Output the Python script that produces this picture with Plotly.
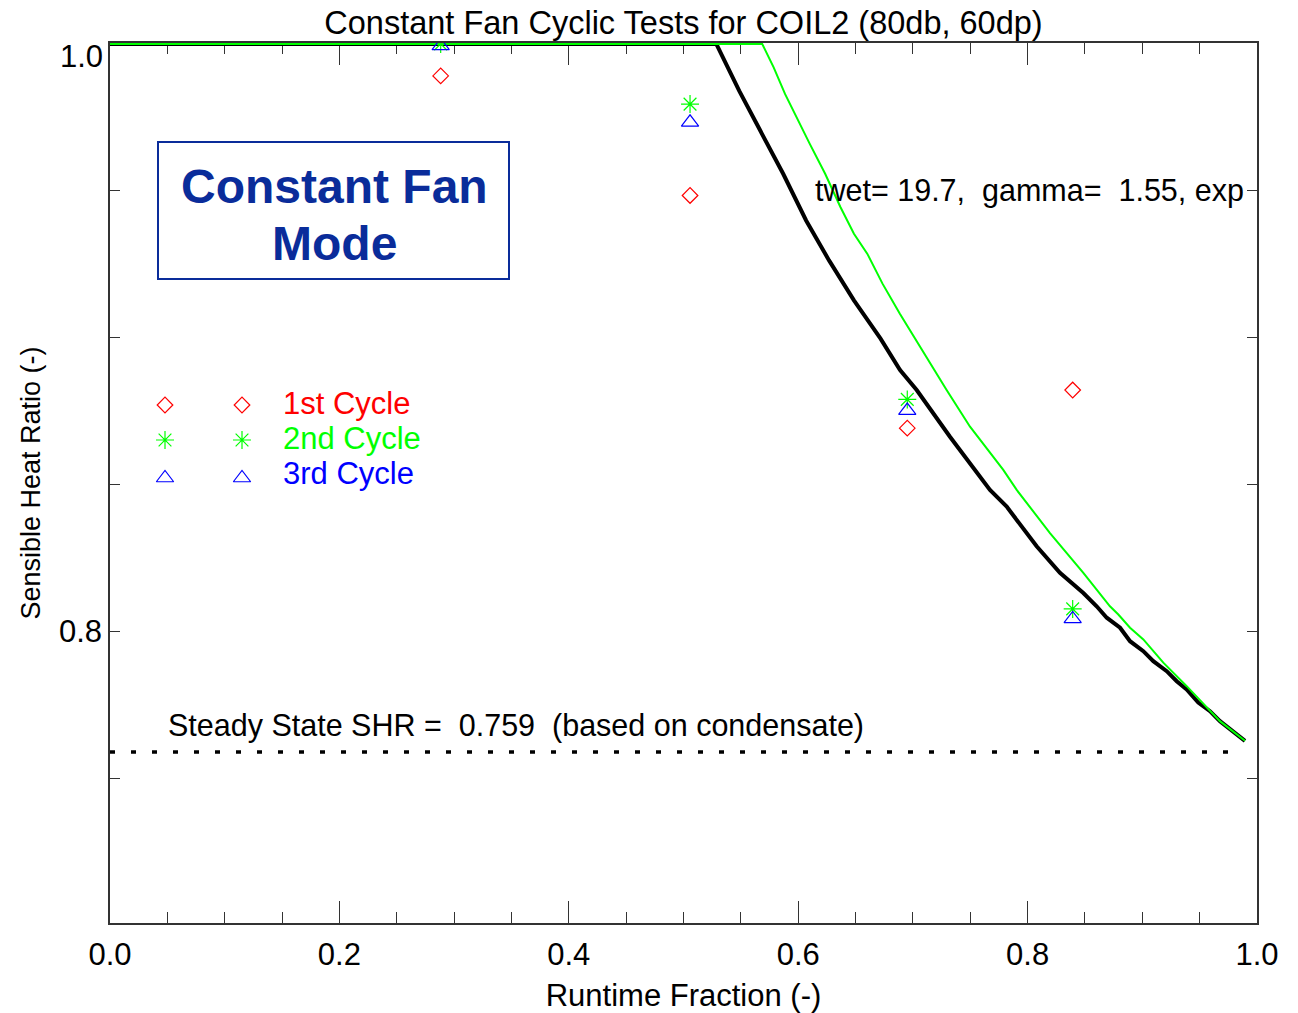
import plotly.graph_objects as go

# ---------------- data ----------------
RTF = [0.2883, 0.5057, 0.6951, 0.8393]          # runtime fraction of the tests
SHR_CYCLE1 = [0.9891, 0.9484, 0.8692, 0.8822]
SHR_CYCLE2 = [1.0, 0.9795, 0.8790, 0.8077]
SHR_CYCLE3 = [0.9993, 0.9733, 0.8752, 0.8043]

MODEL_X = [0.0, 0.5286, 0.5386, 0.5486, 0.5669, 0.5869, 0.6069, 0.6269, 0.6486, 0.6718,
           0.6888, 0.7033, 0.7323, 0.7498, 0.7672, 0.7818, 0.7905, 0.8079, 0.8282, 0.8486,
           0.8602, 0.8690, 0.8806, 0.8893, 0.9009, 0.9096, 0.9213, 0.9300, 0.9387, 0.9488,
           0.9590, 0.9677, 0.9895]
MODEL_Y = [1.0, 1.0, 0.992, 0.984, 0.9705, 0.9558, 0.9399, 0.9263, 0.9127, 0.8997,
           0.889, 0.8822, 0.8663, 0.8573, 0.8482, 0.8425, 0.838, 0.829, 0.82, 0.8131,
           0.8086, 0.8047, 0.8013, 0.7967, 0.7933, 0.7899, 0.7865, 0.7831, 0.7803, 0.7758,
           0.7729, 0.7695, 0.7628]

MODEL2_X = [0.0, 0.5686, 0.5786, 0.5886, 0.6102, 0.6235, 0.6369, 0.6486, 0.6602, 0.6735,
            0.6885, 0.7018, 0.7135, 0.7294, 0.7498, 0.7788, 0.7905, 0.8195, 0.8486, 0.8718,
            0.8791, 0.8893, 0.9009, 0.9183, 0.9387, 0.9561, 0.9677, 0.9895]
MODEL2_Y = [1.0, 1.0, 0.992, 0.9829, 0.9659, 0.9558, 0.9444, 0.9354, 0.9286, 0.9184,
            0.9082, 0.8997, 0.8924, 0.8822, 0.8697, 0.855, 0.8482, 0.8335, 0.82, 0.8086,
            0.8058, 0.8013, 0.7973, 0.7894, 0.7814, 0.7741, 0.7695, 0.7628]

STEADY_SHR = 0.759
STEADY_X = [0.0, 0.987]

Y_TICKS = [0.70, 0.75, 0.80, 0.85, 0.90, 0.95, 1.00]
Y_TICKTEXT = ["", "", "0.8", "", "", "", ""]
X_TICKS = [0.0, 0.2, 0.4, 0.6, 0.8, 1.0]
X_TICKTEXT = ["0.0", "0.2", "0.4", "0.6", "0.8", "1.0"]

TITLE = "Constant Fan Cyclic Tests for COIL2 (80db, 60dp)"
XTITLE = "Runtime Fraction (-)"
YTITLE = "Sensible Heat Ratio (-)"
SERIES_NAMES = ["1st Cycle", "2nd Cycle", "3rd Cycle"]
FIT_TEXT = "twet=\u00a019.7,\u00a0\u00a0gamma=\u00a0\u00a01.55,\u00a0exp"
SS_TEXT = "Steady State SHR =\u00a0\u00a00.759\u00a0\u00a0(based on condensate)"
MODE_TEXT = ["Constant Fan", "Mode"]

# ---------------- layout helpers ----------------
W, H = 1298, 1013
L, R, T, B = 110, 1257, 43, 923   # plot area in pixels
X0, X1 = 0.0, 1.0
Y0, Y1 = 0.7008, 1.0003
FONT = "Liberation Sans, Arial, Helvetica, sans-serif"
FS = 31


def dx(px):
    return X0 + (px - L) / (R - L) * (X1 - X0)


def dy(py):
    return Y0 + (B - py) / (B - T) * (Y1 - Y0)


RED, GREEN, BLUE = "#ff0000", "#00ff00", "#0000ff"
NAVY = "#0a2c9a"
COLORS = [RED, GREEN, BLUE]
SYMBOLS = ["diamond-open", "asterisk-open", "triangle-up-open"]
SIZES = [12, 15, 15]

fig = go.Figure()

# steady-state dotted line
fig.add_trace(go.Scatter(x=STEADY_X, y=[STEADY_SHR] * len(STEADY_X), mode="lines",
                         line=dict(color="black", width=3.5, dash="5px,16px"),
                         showlegend=False, hoverinfo="skip"))
# model curves
fig.add_trace(go.Scatter(x=MODEL_X, y=MODEL_Y, mode="lines", cliponaxis=False,
                         line=dict(color="black", width=4), showlegend=False))
fig.add_trace(go.Scatter(x=MODEL2_X, y=MODEL2_Y, mode="lines", cliponaxis=False,
                         line=dict(color=GREEN, width=2), showlegend=False))

# data points
for name, ys, c, s, sz in zip(SERIES_NAMES, [SHR_CYCLE1, SHR_CYCLE2, SHR_CYCLE3],
                              COLORS, SYMBOLS, SIZES):
    fig.add_trace(go.Scatter(x=RTF, y=ys, mode="markers", name=name,
                             marker=dict(symbol=s, size=sz, color=c,
                                         line=dict(color=c, width=1.2)),
                             showlegend=False))

# hand-made legend (two symbols + coloured label per row)
LEG_ROWS_PY = [405, 440, 478]
LEG_SYM_PX = [165, 242]
LEG_TXT_PX = 281
for name, c, s, sz, py in zip(SERIES_NAMES, COLORS, SYMBOLS, SIZES, LEG_ROWS_PY):
    fig.add_trace(go.Scatter(x=[dx(p) for p in LEG_SYM_PX], y=[dy(py)] * 2, mode="markers",
                             marker=dict(symbol=s, size=sz, color=c,
                                         line=dict(color=c, width=1.2)),
                             showlegend=False, hoverinfo="skip"))

annotations = []
for name, c, py in zip(SERIES_NAMES, COLORS, [403, 438, 473]):
    annotations.append(dict(x=dx(LEG_TXT_PX), y=dy(py), xref="x", yref="y", text=name,
                            showarrow=False, xanchor="left", yanchor="middle",
                            font=dict(family=FONT, size=FS, color=c)))

annotations.append(dict(x=dx(813), y=dy(190), xref="x", yref="y", text=FIT_TEXT,
                        showarrow=False, xanchor="left", yanchor="middle",
                        font=dict(family=FONT, size=30.5, color="black")))
annotations.append(dict(x=dx(166), y=dy(725), xref="x", yref="y", text=SS_TEXT,
                        showarrow=False, xanchor="left", yanchor="middle",
                        font=dict(family=FONT, size=30.5, color="black")))
# mode box text
for txt, py in zip(MODE_TEXT, [186, 243]):
    annotations.append(dict(x=dx(334), y=dy(py), xref="x", yref="y", text="<b>" + txt + "</b>",
                            showarrow=False, xanchor="center", yanchor="middle",
                            font=dict(family=FONT, size=48, color=NAVY)))
# "1.0" y label (shifted down as in original)
annotations.append(dict(x=0, y=1.0, xref="paper", yref="y", text="1.0", showarrow=False,
                        xanchor="right", yanchor="middle", xshift=-5, yshift=-13,
                        font=dict(family=FONT, size=FS, color="black")))

shapes = [dict(type="rect", xref="x", yref="y", x0=dx(158), x1=dx(509), y0=dy(279), y1=dy(142),
               line=dict(color=NAVY, width=2), fillcolor="rgba(0,0,0,0)")]

axis_common = dict(showgrid=False, zeroline=False, showline=True, linecolor="#333333",
                   linewidth=1.5, mirror="ticks", ticks="inside", tickcolor="#333333",
                   automargin=False, layer="below traces",
                   tickfont=dict(family=FONT, size=FS, color="black"))

fig.update_layout(
    width=W, height=H,
    margin=dict(l=L, r=W - R, t=T, b=H - B, pad=0),
    paper_bgcolor="white", plot_bgcolor="white",
    title=dict(text=TITLE, x=0.5, xref="paper", xanchor="center",
               y=1 - 23 / H, yanchor="middle",
               font=dict(family=FONT, size=32.5, color="black")),
    xaxis=dict(range=[X0, X1], tickvals=X_TICKS, ticktext=X_TICKTEXT, ticklen=22, tickwidth=1.2,
               minor=dict(dtick=0.05, ticklen=11, ticks="inside", tickcolor="#333333", tickwidth=1.2),
               ticklabelstandoff=3,
               title=dict(text=XTITLE, standoff=21, font=dict(family=FONT, size=FS, color="black")),
               **axis_common),
    yaxis=dict(range=[Y0, Y1], tickvals=Y_TICKS, ticktext=Y_TICKTEXT, ticklen=10, tickwidth=1.2,
               title=dict(text=YTITLE, standoff=10, font=dict(family=FONT, size=27, color="black")),
               **axis_common),
    annotations=annotations,
    shapes=shapes,
    showlegend=False,
)

# remove the default 8px body margin so the figure fills the window exactly
fig.write_html("out.html", config={"displayModeBar": False},
               post_script="document.body.style.margin='0';")
